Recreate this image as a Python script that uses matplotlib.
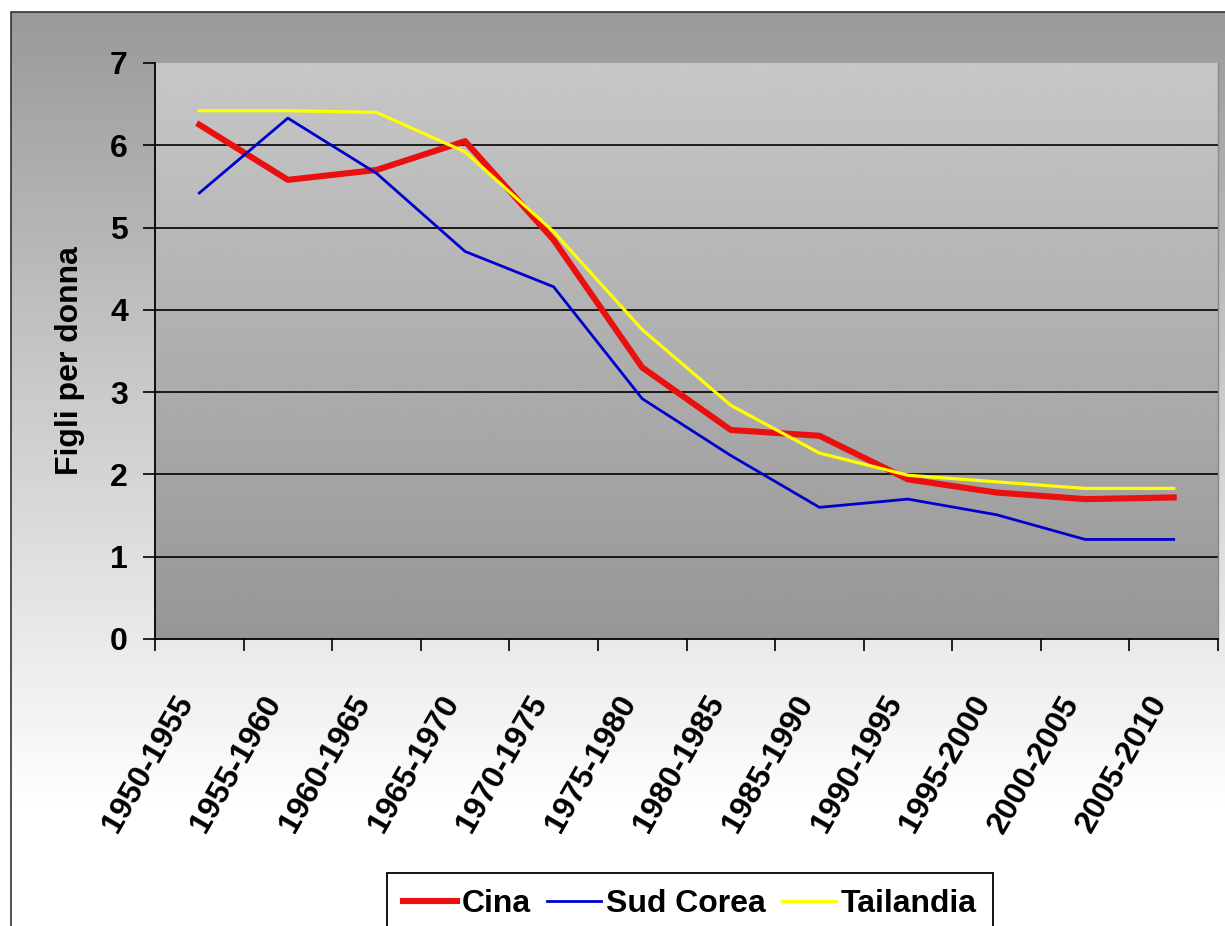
import numpy as np
import matplotlib
matplotlib.use("Agg")
import matplotlib.pyplot as plt
from matplotlib.patches import Rectangle

# Tasso di fecondità (figli per donna)
periodi = ['1950-1955', '1955-1960', '1960-1965', '1965-1970', '1970-1975', '1975-1980',
           '1980-1985', '1985-1990', '1990-1995', '1995-2000', '2000-2005', '2005-2010']
cina = [6.25, 5.58, 5.70, 6.05, 4.85, 3.30, 2.54, 2.47, 1.94, 1.78, 1.70, 1.72]
sud_corea = [5.42, 6.33, 5.66, 4.71, 4.28, 2.92, 2.23, 1.60, 1.70, 1.51, 1.21, 1.21]
tailandia = [6.42, 6.42, 6.40, 5.92, 4.95, 3.76, 2.84, 2.26, 1.99, 1.91, 1.83, 1.83]

W, H = 1225, 926
fig = plt.figure(figsize=(W / 100, H / 100), dpi=100)
fig.patch.set_facecolor('white')

font = 'Liberation Sans'
fs = 23

# sfondo esterno sfumato (grigio in alto, bianco in basso)
bg = fig.add_axes([11 / W, 0, 1 - 11 / W, 1 - 12 / H], zorder=-10)
rows = np.arange(H - 12)
grad = np.clip(0.6 + 0.4 * rows / 800, 0, 1)[:, None]
bg.imshow(grad, aspect='auto', cmap='gray', vmin=0, vmax=1, extent=[0, 1, 0, 1])
bg.axis('off')
fig.add_artist(Rectangle((11 / W, -0.1), 1.0, 1.1 - 12 / H, transform=fig.transFigure,
                         fill=False, edgecolor='#333333', lw=1.2))

# area del grafico
ax = fig.add_axes([155 / W, 1 - 639 / H, (1218 - 155) / W, (639 - 63) / H])
ax.imshow(np.linspace(0.78, 0.59, 200)[:, None], aspect='auto', cmap='gray', vmin=0, vmax=1,
          extent=[0, 12, 0, 7], zorder=0)

x = np.arange(len(periodi)) + 0.5
ax.plot(x, cina, color='#EA1010', lw=4.4, label='Cina', zorder=3)
ax.plot(x, sud_corea, color='#0000CC', lw=2.0, label='Sud Corea', zorder=4)
ax.plot(x, tailandia, color='#FFFF00', lw=2.3, label='Tailandia', zorder=5)

ax.set_xlim(0, 12)
ax.set_ylim(0, 7)
ax.set_yticks(range(0, 8))
ax.set_yticklabels([str(v) for v in range(0, 8)], fontsize=fs, fontweight='bold', family=font)
for v in range(1, 7):
    ax.axhline(v, color='black', lw=1.2, zorder=1.5)

ax.set_xticks(range(0, 13))
ax.set_xticklabels([])
ax.set_xticks(x, minor=True)
ax.set_xticklabels(periodi, minor=True, rotation=60, ha='right', va='top',
                   fontsize=fs, fontweight='bold', family=font)
ax.tick_params(axis='x', which='major', direction='out', length=8.6, width=1.2)
ax.tick_params(axis='x', which='minor', length=0, pad=37)
ax.tick_params(axis='y', direction='out', length=8.6, width=1.2, pad=11)

for s in ['left', 'bottom']:
    ax.spines[s].set_color('black')
    ax.spines[s].set_linewidth(1.3)
ax.spines['top'].set_visible(False)
ax.spines['right'].set_color('#888888')
ax.spines['right'].set_linewidth(1.0)

ax.set_ylabel('Figli per donna', fontsize=fs, fontweight='bold', family=font)
ax.yaxis.set_label_coords(-0.066, 0.483)

leg = fig.legend(loc='upper left', bbox_to_anchor=(387 / W, 1 - 873 / H), ncols=3,
                 prop={'family': font, 'weight': 'bold', 'size': fs},
                 frameon=True, fancybox=False, edgecolor='black', facecolor='white',
                 framealpha=1, borderaxespad=0, borderpad=0.5, handlelength=1.7,
                 handletextpad=0.15, columnspacing=0.5)
leg.get_frame().set_linewidth(1.3)

fig.savefig('out.png', dpi=100)
